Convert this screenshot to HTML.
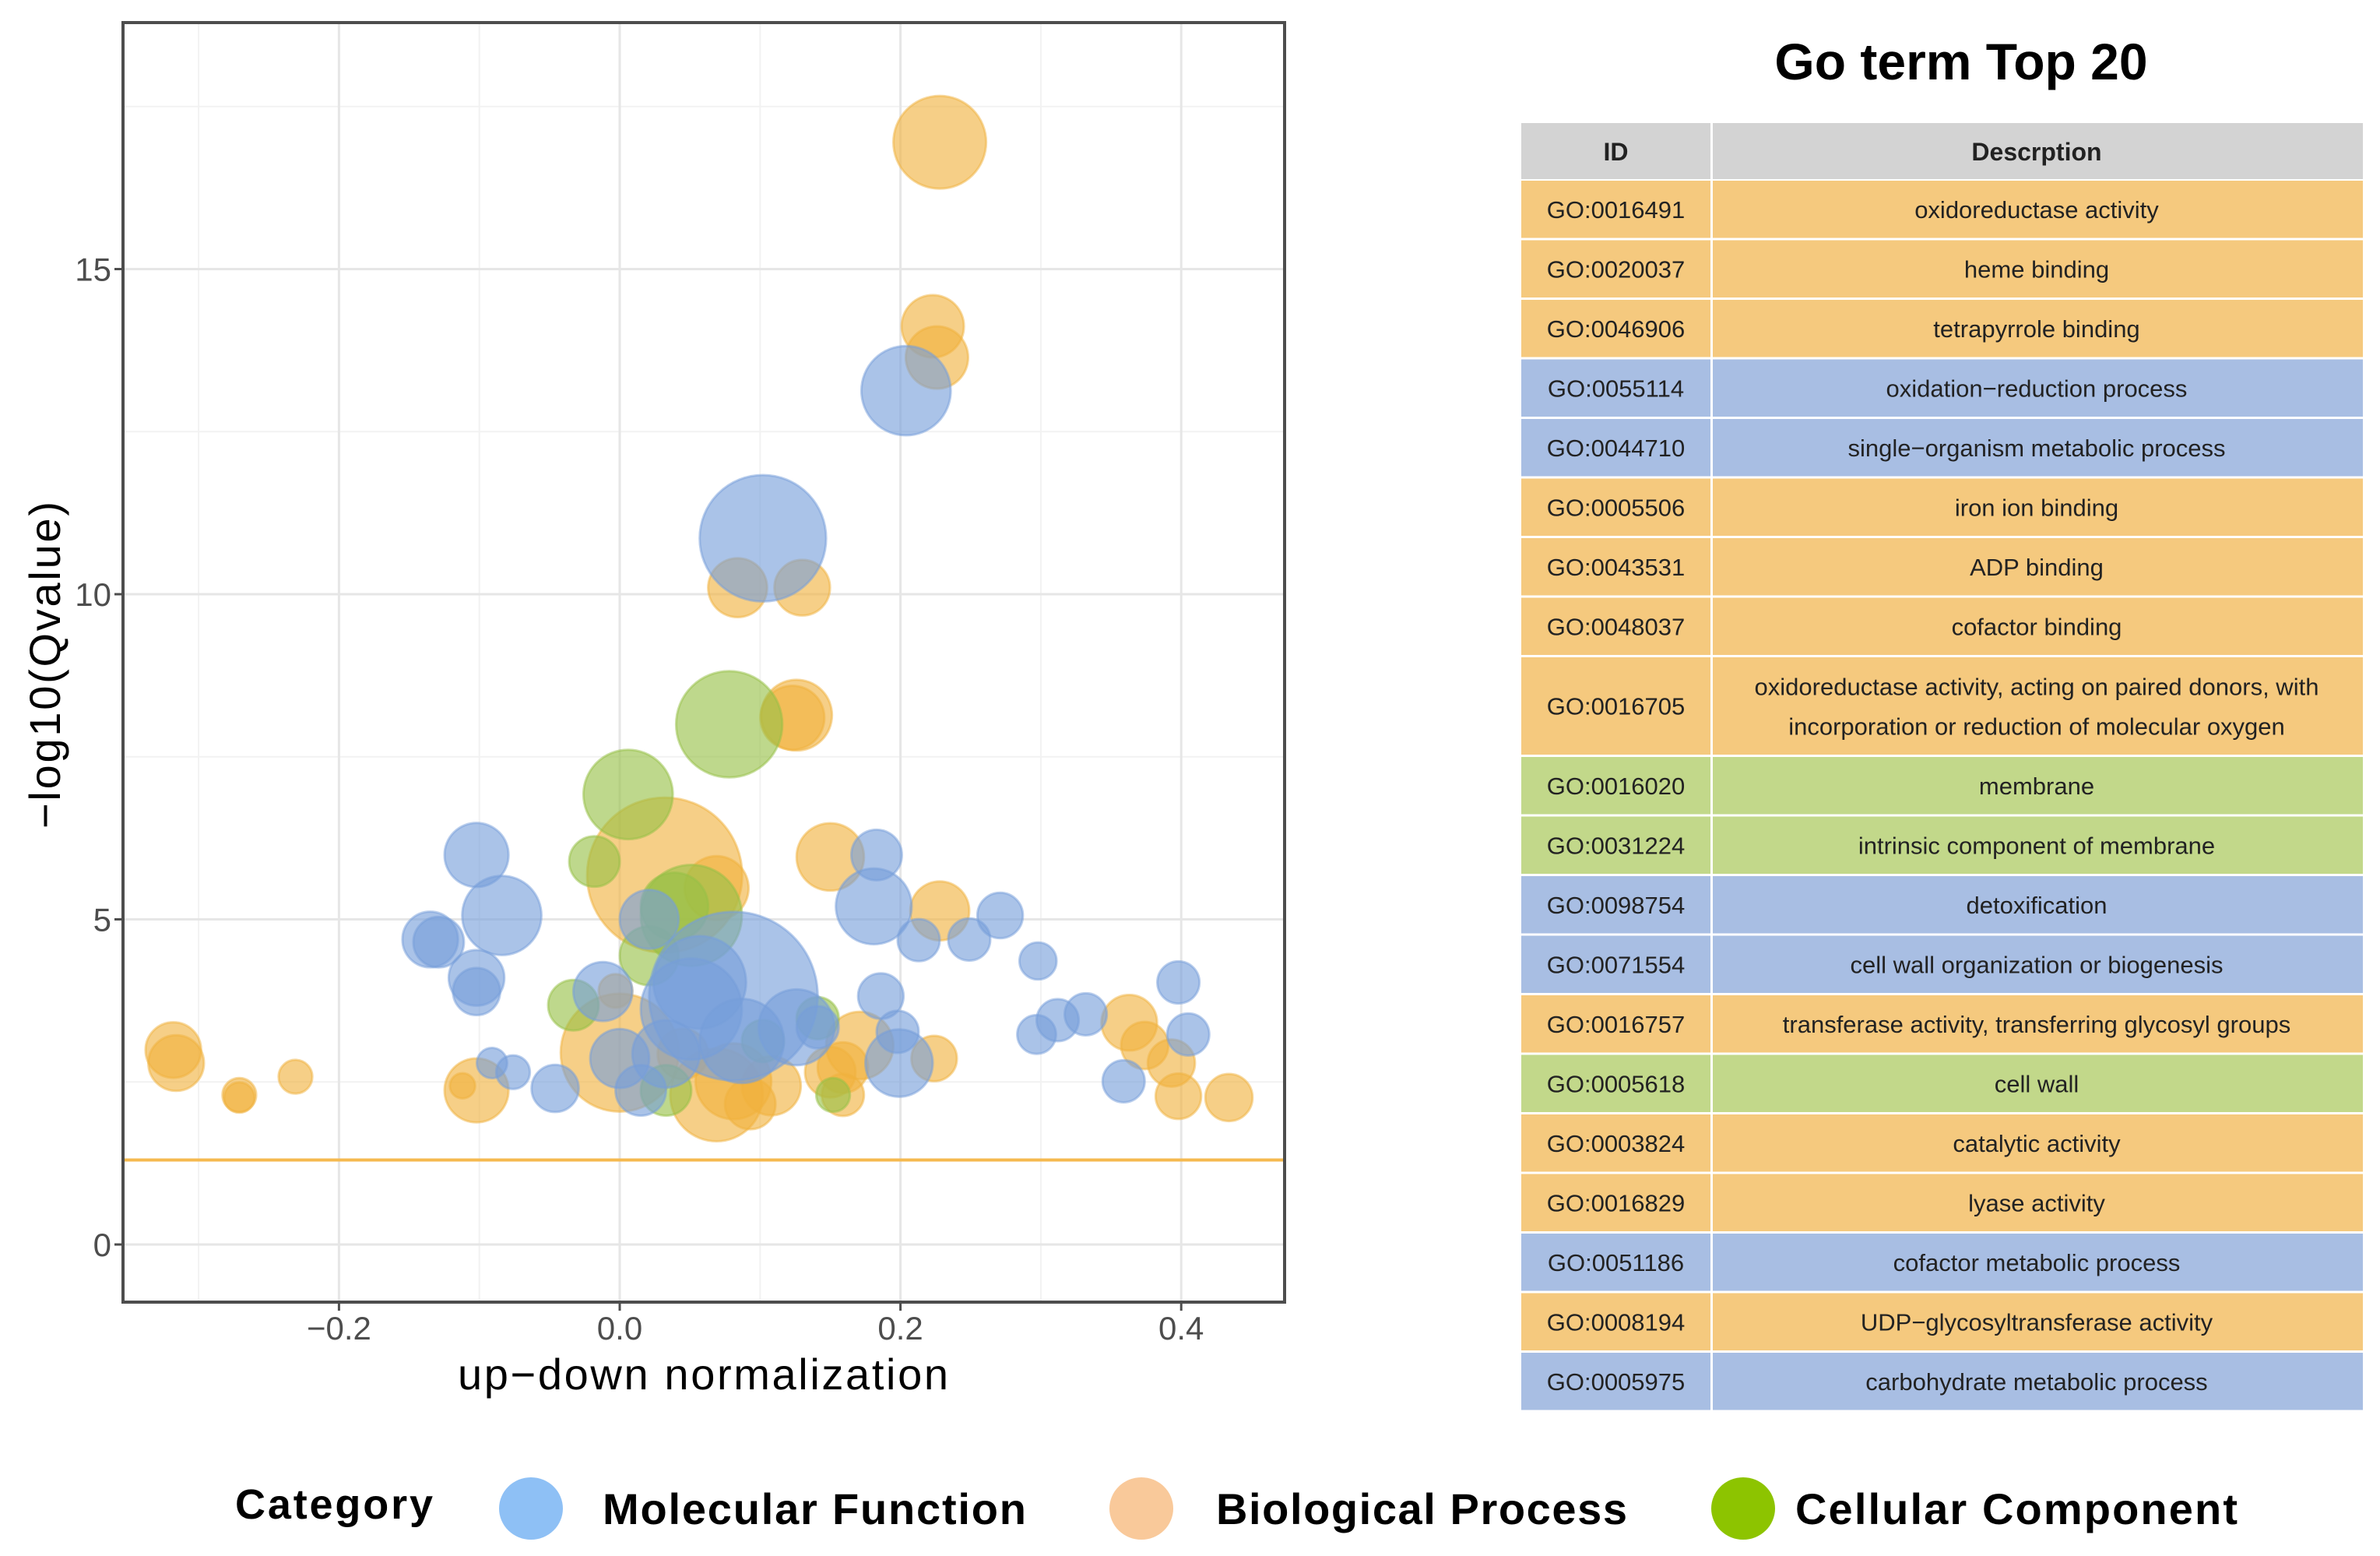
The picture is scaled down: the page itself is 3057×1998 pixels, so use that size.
<!DOCTYPE html>
<html><head><meta charset="utf-8"><style>
html,body{margin:0;padding:0;background:#fff;}
svg{display:block;font-family:"Liberation Sans",sans-serif;}
</style></head><body>
<svg id="chart" width="3057" height="1998" viewBox="0 0 3057 1998" xmlns="http://www.w3.org/2000/svg">
<g id="plot"></g>
<g id="table"></g>
<g id="legend"></g>
</svg>
<script>
// ---- chart data ----
const xTicks = [-0.2, 0.0, 0.2, 0.4];
const xTickLabels = ["\u22120.2", "0.0", "0.2", "0.4"];
const xMinor = [-0.3, -0.1, 0.1, 0.3];
const yTicks = [0, 5, 10, 15];
const yTickLabels = ["0", "5", "10", "15"];
const yMinor = [2.5, 7.5, 12.5, 17.5];
const threshold = 1.3;
// Biological Process (orange)
const bpX = [0.228,0.223,0.226,0.084,0.130,0.126,0.123,0.032,0.069,0.150,0.228,0.000,-0.003,-0.318,-0.316,-0.271,-0.271,-0.231,-0.102,-0.112,0.069,0.081,0.108,0.093,0.159,0.171,0.150,0.159,0.224,0.363,0.374,0.393,0.398,0.434,0.045];
const bpY = [16.95,14.12,13.64,10.10,10.10,8.14,8.10,5.68,5.48,5.96,5.13,2.95,3.90,2.99,2.79,2.30,2.26,2.58,2.37,2.44,2.30,2.51,2.44,2.16,2.72,3.06,2.65,2.30,2.86,3.41,3.06,2.79,2.28,2.26,2.93];
const bpS = [55,37,37,35,33,42,38,92,38,40,35,70,20,33,33,20,18,20,38,15,55,45,35,30,30,40,30,25,27,33,28,28,27,28,30];
// Molecular Function (blue)
const mfX = [0.204,0.102,-0.102,-0.084,-0.135,-0.129,-0.102,-0.102,0.183,0.181,0.213,0.249,0.271,0.298,0.186,0.198,0.199,0.297,0.312,0.332,0.398,0.405,0.359,-0.091,-0.076,-0.046,-0.012,0.000,0.081,0.057,0.051,0.126,0.087,0.033,0.021,0.015,0.141];
const mfY = [13.13,10.86,5.99,5.06,4.69,4.65,4.10,3.89,5.99,5.20,4.68,4.69,5.06,4.36,3.82,3.27,2.79,3.23,3.45,3.54,4.03,3.23,2.51,2.79,2.65,2.40,3.89,2.86,3.82,4.03,3.62,3.34,3.13,2.93,5.00,2.37,3.34];
const mfS = [53,75,38,47,33,30,33,28,30,45,25,25,27,22,27,25,40,23,25,25,25,25,25,18,20,28,35,35,100,55,60,45,50,40,35,30,25];
// Cellular Component (green)
const ccX = [0.078,0.006,-0.018,0.051,0.039,0.021,-0.033,0.033,0.141,0.152,0.102];
const ccY = [8.00,6.92,5.89,5.06,5.20,4.44,3.68,2.37,3.48,2.30,3.13];
const ccS = [63,53,30,60,40,35,30,30,25,20,25];
// ---- table data ----
const goIds = ["GO:0016491","GO:0020037","GO:0046906","GO:0055114","GO:0044710","GO:0005506","GO:0043531","GO:0048037","GO:0016705","GO:0016020","GO:0031224","GO:0098754","GO:0071554","GO:0016757","GO:0005618","GO:0003824","GO:0016829","GO:0051186","GO:0008194","GO:0005975"];
const goDesc = ["oxidoreductase activity","heme binding","tetrapyrrole binding","oxidation\u2212reduction process","single\u2212organism metabolic process","iron ion binding","ADP binding","cofactor binding","oxidoreductase activity, acting on paired donors, with|incorporation or reduction of molecular oxygen","membrane","intrinsic component of membrane","detoxification","cell wall organization or biogenesis","transferase activity, transferring glycosyl groups","cell wall","catalytic activity","lyase activity","cofactor metabolic process","UDP\u2212glycosyltransferase activity","carbohydrate metabolic process"];
const goCat = ["BP","BP","BP","MF","MF","BP","BP","BP","BP","CC","CC","MF","MF","BP","CC","BP","BP","MF","BP","MF"];

const NS = "http://www.w3.org/2000/svg";
function mk(parent, tag, attrs, text){
  const e = document.createElementNS(NS, tag);
  for (const k in attrs) e.setAttribute(k, attrs[k]);
  if (text !== undefined) e.textContent = text;
  parent.appendChild(e);
  return e;
}
// axes
const PL=158, PR=1650, PT=29, PB=1672;
const X0 = 796, XK = 1803;
const Y0 = 1598, YK = 83.5;
const sx = v => X0 + v*XK;
const sy = v => Y0 - v*YK;
const RS = 1.083;

const plot = document.getElementById('plot');
const clip = mk(plot,'clipPath',{id:'pc'});
mk(clip,'rect',{x:PL,y:PT,width:PR-PL,height:PB-PT});
const grid = mk(plot,'g',{});


xMinor.forEach(v=>mk(grid,'line',{x1:sx(v),x2:sx(v),y1:PT,y2:PB,stroke:'#f2f2f2','stroke-width':2}));
yMinor.forEach(v=>mk(grid,'line',{x1:PL,x2:PR,y1:sy(v),y2:sy(v),stroke:'#f2f2f2','stroke-width':2}));
xTicks.forEach(v=>mk(grid,'line',{x1:sx(v),x2:sx(v),y1:PT,y2:PB,stroke:'#e6e6e6','stroke-width':3}));
yTicks.forEach(v=>mk(grid,'line',{x1:PL,x2:PR,y1:sy(v),y2:sy(v),stroke:'#e6e6e6','stroke-width':3}));

const bub = mk(plot,'g',{'clip-path':'url(#pc)'});
function drawSeries(xs,ys,ss,fill,stroke,name){
  const g = mk(bub,'g',{});
  
  
  xs.forEach((x,i)=>{
    const c = mk(g,'circle',{cx:sx(x),cy:sy(ys[i]),r:ss[i]*RS,fill:fill,stroke:stroke,'stroke-width':3});
    
    
  });
}
drawSeries(bpX,bpY,bpS,'rgba(240,178,62,0.62)','rgba(240,178,62,0.5)','biological-process');
drawSeries(ccX,ccY,ccS,'rgba(150,192,70,0.62)','rgba(150,192,70,0.5)','cellular-component');
drawSeries(mfX,mfY,mfS,'rgba(118,158,218,0.62)','rgba(118,158,218,0.5)','molecular-function');

const th = mk(plot,'line',{x1:PL,x2:PR,y1:sy(threshold),y2:sy(threshold),stroke:'#f5b94f','stroke-width':4});



const frame = mk(plot,'rect',{x:PL,y:PT,width:PR-PL,height:PB-PT,fill:'none',stroke:'#4d4d4d','stroke-width':4});



xTicks.forEach((v,i)=>{
  mk(plot,'line',{x1:sx(v),x2:sx(v),y1:PB,y2:PB+11,stroke:'#4d4d4d','stroke-width':3});
  const t = mk(plot,'text',{x:sx(v),y:1720,'text-anchor':'middle','font-size':42,fill:'#4d4d4d'},xTickLabels[i]);
  
  
});
yTicks.forEach((v,i)=>{
  mk(plot,'line',{x1:PL-11,x2:PL,y1:sy(v),y2:sy(v),stroke:'#4d4d4d','stroke-width':3});
  const t = mk(plot,'text',{x:143,y:sy(v)+15,'text-anchor':'end','font-size':42,fill:'#4d4d4d'},yTickLabels[i]);
  
  
});
const xt = mk(plot,'text',{x:903,y:1784,'text-anchor':'middle','font-size':56,fill:'#000',textLength:630},'up\u2212down normalization');


const yt = mk(plot,'text',{x:0,y:0,'text-anchor':'middle','font-size':56,fill:'#000',transform:'translate(77,854) rotate(-90)',textLength:420},'\u2212log10(Qvalue)');



// table
const tbl = document.getElementById('table');
const ttl = mk(tbl,'text',{x:2519,y:102,'text-anchor':'middle','font-size':66,'font-weight':'bold',fill:'#000'},'Go term Top 20');


const TL=1954, TD=2197, TR=3035;
const catColor = {BP:'#f5c97e', MF:'#a8bee3', CC:'#c2d88a'};
mk(tbl,'rect',{x:TL,y:158,width:TD-TL,height:72,fill:'#d3d3d3'});
mk(tbl,'rect',{x:TD+3,y:158,width:TR-TD-3,height:72,fill:'#d3d3d3'});
const h1 = mk(tbl,'text',{x:(TL+TD)/2,y:206,'text-anchor':'middle','font-size':32,'font-weight':'bold',fill:'#222'},'ID');


const h2 = mk(tbl,'text',{x:(TD+TR)/2,y:206,'text-anchor':'middle','font-size':32,'font-weight':'bold',fill:'#222'},'Descrption');


let ry = 232;
goIds.forEach((id,i)=>{
  const tall = goDesc[i].indexOf('|')>=0;
  const h = tall ? 128 : 76.5;
  const g = mk(tbl,'g',{});
  
  
  mk(g,'rect',{x:TL,y:ry,width:TD-TL,height:h-3,fill:catColor[goCat[i]]});
  mk(g,'rect',{x:TD+3,y:ry,width:TR-TD-3,height:h-3,fill:catColor[goCat[i]]});
  const cy = ry + (h-3)/2;
  mk(g,'text',{x:(TL+TD)/2,y:cy+11,'text-anchor':'middle','font-size':31,fill:'#222'},id);
  const parts = goDesc[i].split('|');
  if (parts.length===1){
    mk(g,'text',{x:(TD+TR)/2,y:cy+11,'text-anchor':'middle','font-size':31,fill:'#222'},parts[0]);
  } else {
    mk(g,'text',{x:(TD+TR)/2,y:cy-14,'text-anchor':'middle','font-size':31,fill:'#222'},parts[0]);
    mk(g,'text',{x:(TD+TR)/2,y:cy+37,'text-anchor':'middle','font-size':31,fill:'#222'},parts[1]);
  }
  ry += h;
});

// legend
const lg = document.getElementById('legend');
const lt = mk(lg,'text',{x:302,y:1950,'font-size':54,'font-weight':'bold',fill:'#000',textLength:254},'Category');


const legItems = [
  {cx:682, col:'#8ec0f5', tx:774, tw:544, label:'Molecular Function', n:'legend-molecular-function'},
  {cx:1466, col:'#f9c99a', tx:1562, tw:528, label:'Biological Process', n:'legend-biological-process'},
  {cx:2239, col:'#8dc400', tx:2306, tw:568, label:'Cellular Component', n:'legend-cellular-component'}
];
legItems.forEach(it=>{
  const g = mk(lg,'g',{});
  
  
  mk(g,'ellipse',{cx:it.cx,cy:1937,rx:41,ry:40,fill:it.col});
  mk(g,'text',{x:it.tx,y:1957,'font-size':56,'font-weight':'bold',fill:'#000',textLength:it.tw},it.label);
});
</script>
</body></html>
